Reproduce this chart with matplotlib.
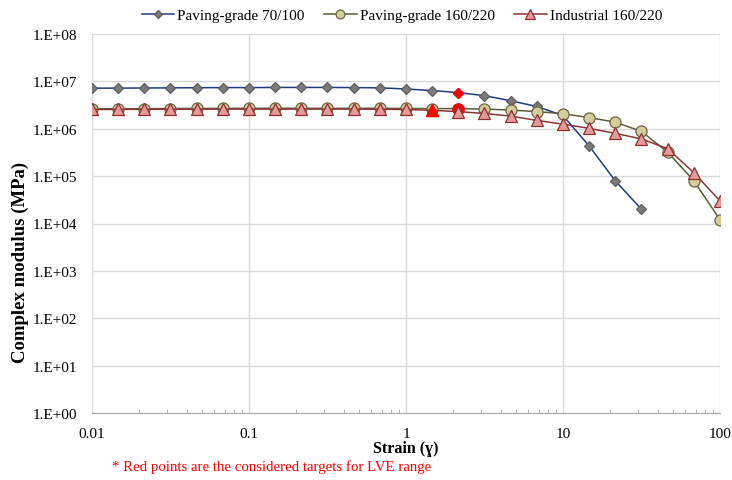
import numpy as np
import matplotlib
matplotlib.use("Agg")
import matplotlib.pyplot as plt
from matplotlib.ticker import LogLocator, FixedLocator, NullFormatter

plt.rcParams['font.family'] = ['Liberation Serif', 'DejaVu Serif']

# strain values (6 points per decade)
strain_all = [0.01, 0.0147, 0.0215, 0.0316, 0.0464, 0.0681, 0.1, 0.147, 0.215, 0.316,
              0.464, 0.681, 1.0, 1.47, 2.15, 3.16, 4.64, 6.81, 10.0, 14.7, 21.5, 31.6,
              46.4, 68.1, 100.0]

pav70_strain = strain_all[:22]
pav70_mod = [7.2e6, 7.2e6, 7.25e6, 7.3e6, 7.35e6, 7.4e6, 7.4e6, 7.45e6, 7.45e6, 7.45e6,
             7.4e6, 7.3e6, 6.9e6, 6.4e6, 5.8e6, 5.0e6, 3.9e6, 2.95e6, 1.9e6, 4.3e5,
             8.0e4, 2.0e4]

pav160_strain = strain_all
pav160_mod = [2.65e6, 2.65e6, 2.66e6, 2.67e6, 2.68e6, 2.69e6, 2.7e6, 2.7e6, 2.7e6, 2.7e6,
              2.7e6, 2.7e6, 2.68e6, 2.67e6, 2.66e6, 2.6e6, 2.48e6, 2.3e6, 2.08e6, 1.72e6,
              1.38e6, 8.8e5, 3.2e5, 8.0e4, 1.2e4]

ind_strain = strain_all
ind_mod = [2.55e6, 2.56e6, 2.57e6, 2.58e6, 2.59e6, 2.6e6, 2.6e6, 2.6e6, 2.6e6, 2.6e6,
           2.6e6, 2.58e6, 2.55e6, 2.45e6, 2.3e6, 2.1e6, 1.85e6, 1.5e6, 1.25e6, 1.02e6,
           8.0e5, 6.1e5, 3.8e5, 1.18e5, 3.0e4]

# index of red (LVE target) points in each series
pav70_red = 14
pav160_red = 14
ind_red = 13

series_names = ["Paving-grade 70/100", "Paving-grade 160/220", "Industrial 160/220"]
y_ticks = [1e0, 1e1, 1e2, 1e3, 1e4, 1e5, 1e6, 1e7, 1e8]
y_ticklabels = ["1.E+00", "1.E+01", "1.E+02", "1.E+03", "1.E+04", "1.E+05", "1.E+06", "1.E+07", "1.E+08"]
x_ticks = [0.01, 0.1, 1, 10, 100]
x_ticklabels = ["0.01", "0.1", "1", "10", "100"]

fig = plt.figure(figsize=(7.32, 4.81), dpi=100)
ax = fig.add_axes([92/732, 1 - 414/481, (720-92)/732, (414-35)/481])

styles = [
    dict(color='#1F3C7E', marker='D', mfc='#7A7A7A', mec='#5E5E5E', ms=5.5),
    dict(color='#5E5A3A', marker='o', mfc='#D4CC9C', mec='#6B6645', ms=8),
    dict(color='#8B3535', marker='^', mfc='#E59A9A', mec='#8E3030', ms=8.5),
]
data = [(pav70_strain, pav70_mod, pav70_red),
        (pav160_strain, pav160_mod, pav160_red),
        (ind_strain, ind_mod, ind_red)]

handles = []
for i, ((xs, ys, r), st) in enumerate(zip(data, styles)):
    z = 3 + i
    h, = ax.plot(xs, ys, color=st['color'], lw=1.1, marker=st['marker'],
                 mfc=st['mfc'], mec=st['mec'], ms=st['ms'], mew=0.9, zorder=z,
                 label=series_names[i])
    ax.plot([xs[r]], [ys[r]], linestyle='none', marker=st['marker'], mfc='#FF0000',
            mec='#FF0000', ms=st['ms'], zorder=z + 0.5)
    handles.append(h)

ax.set_xscale('log')
ax.set_yscale('log')
ax.set_xlim(0.01, 100)
ax.set_ylim(1, 1e8)

ax.set_yticks(y_ticks)
ax.set_yticklabels(y_ticklabels)
ax.yaxis.set_minor_locator(FixedLocator([]))
ax.set_xticks(x_ticks)
ax.set_xticklabels(x_ticklabels)
ax.xaxis.set_minor_locator(LogLocator(base=10, subs=np.arange(2, 10), numticks=20))
ax.xaxis.set_minor_formatter(NullFormatter())

ax.grid(True, which='major', color='#D9D9D9', lw=1.0, zorder=0)
for s in ['top', 'right']:
    ax.spines[s].set_visible(False)
ax.spines['left'].set_color('#D9D9D9')
ax.spines['bottom'].set_color('#A6A6A6')
ax.tick_params(axis='y', length=0, labelsize=11, pad=11)
ax.tick_params(axis='x', which='major', length=0, labelsize=11, pad=10)
ax.tick_params(axis='x', which='minor', direction='in', length=3, color='#A6A6A6')

ax.set_ylabel("Complex modulus (MPa)", fontsize=13.5, fontweight='bold')
ax.yaxis.set_label_coords(-0.101, 0.40)
ax.set_xlabel("Strain (ɣ)", fontsize=11.5, fontweight='bold', labelpad=0)

fig.legend(handles=handles, loc='center', bbox_to_anchor=(0.549, 0.966), ncol=3,
           frameon=False, fontsize=11, handlelength=2.15, handletextpad=0.2,
           columnspacing=1.25, markerscale=0.8)

fig.text(112/732, 1 - 467/481, "* Red points are the considered targets for LVE range",
         color='#FF0000', fontsize=10.7, va='center', ha='left')

fig.savefig("out.png", dpi=100)
